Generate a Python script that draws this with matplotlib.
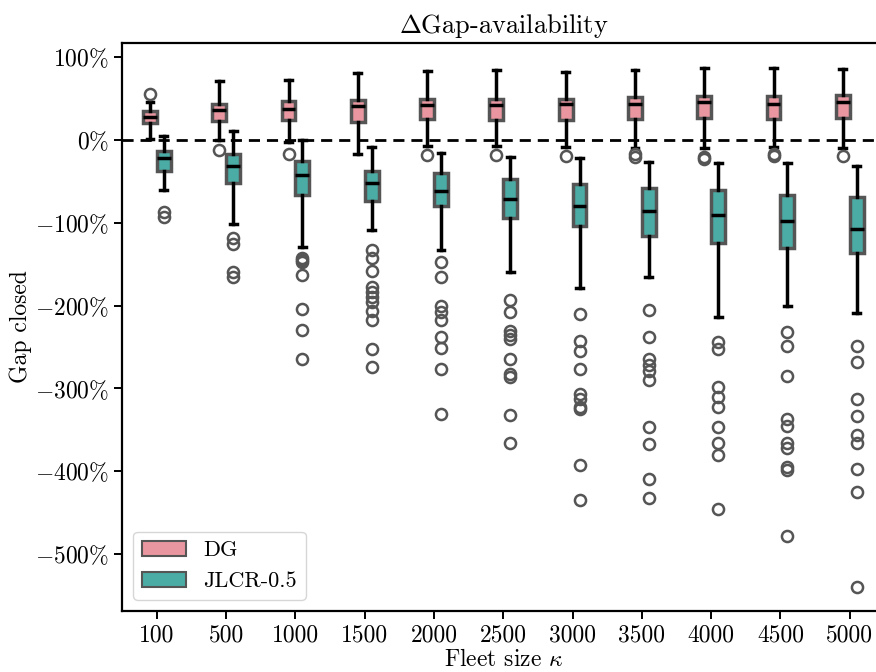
import matplotlib
matplotlib.use("Agg")
import matplotlib.pyplot as plt
import matplotlib.patches as mpatches
from matplotlib.ticker import FuncFormatter

plt.rcParams["font.family"] = "cmr10"
plt.rcParams["mathtext.fontset"] = "cm"
plt.rcParams["axes.formatter.use_mathtext"] = True

# Fleet sizes (categories)
FLEET = ["100", "500", "1000", "1500", "2000", "2500", "3000", "3500", "4000", "4500", "5000"]

# DG box stats (percent)
DG_WLO = [1, 0, -2, -17, -7, -7, -8, -10, -10, -9, -10]
DG_Q1 = [21, 23, 24, 22, 25, 24, 24, 25, 26, 25, 26]
DG_MED = [28, 36, 38, 41, 42, 42, 44, 43, 46, 44, 46]
DG_Q3 = [35, 44, 47, 48, 49, 50, 50, 52, 53, 53, 54]
DG_WHI = [46, 71, 72, 81, 83, 84, 82, 85, 87, 87, 86]
DG_FLIERS = [
    [56], [-12], [-17], [], [-18], [-18], [-19], [-17, -20], [-20, -23], [-17, -19], [-19],
]

# JLCR-0.5 box stats (percent)
JL_WLO = [-60, -102, -129, -109, -133, -159, -179, -166, -214, -200, -209]
JL_Q1 = [-38, -52, -66, -74, -80, -94, -104, -116, -124, -131, -137]
JL_MED = [-22, -32, -42, -52, -62, -71, -80, -86, -91, -98, -107]
JL_Q3 = [-13, -17, -25, -37, -40, -47, -53, -58, -61, -66, -69]
JL_WHI = [5, 11, 0, -8, -16, -20, -22, -26, -28, -28, -31]
JL_FLIERS = [
    [-87, -93],
    [-119, -126, -159, -166],
    [-142, -145, -148, -163, -204, -230, -264],
    [-133, -143, -158, -178, -184, -190, -196, -206, -218, -253, -274],
    [-148, -165, -200, -208, -217, -238, -251, -277, -331],
    [-193, -208, -231, -236, -241, -265, -283, -286, -332, -366],
    [-210, -243, -255, -277, -307, -313, -322, -325, -393, -435],
    [-205, -238, -265, -272, -279, -290, -347, -367, -410, -432],
    [-244, -253, -298, -311, -323, -347, -366, -381, -446],
    [-232, -249, -285, -337, -345, -366, -372, -395, -399, -479],
    [-249, -268, -313, -334, -356, -366, -398, -425, -540],
]

SERIES = ["DG", "JLCR-0.5"]
COLORS = ["#EA96A0", "#4BACA5"]
EDGE = "#555555"


def make_stats(wlo, q1, med, q3, whi, fliers):
    return [dict(whislo=a, q1=b, med=c, q3=d, whishi=e, fliers=f)
            for a, b, c, d, e, f in zip(wlo, q1, med, q3, whi, fliers)]


fig = plt.figure(figsize=(8.76, 6.72), dpi=100)
ax = fig.add_axes([0.1396, 0.0908, 0.870, 0.845])

groups = [
    make_stats(DG_WLO, DG_Q1, DG_MED, DG_Q3, DG_WHI, DG_FLIERS),
    make_stats(JL_WLO, JL_Q1, JL_MED, JL_Q3, JL_WHI, JL_FLIERS),
]
offsets = [-0.1, 0.1]

for stats, off, col in zip(groups, offsets, COLORS):
    ax.bxp(stats, positions=[i + off for i in range(len(FLEET))], widths=0.2,
           patch_artist=True, manage_ticks=False,
           boxprops=dict(facecolor=col, edgecolor=EDGE, linewidth=2.5),
           whiskerprops=dict(color="black", linewidth=2.5),
           capprops=dict(color="black", linewidth=2.5),
           medianprops=dict(color="black", linewidth=2.5),
           flierprops=dict(marker="o", markerfacecolor="none",
                           markeredgecolor=EDGE, markersize=8, markeredgewidth=1.8))

ax.axhline(0, color="black", linestyle=(0, (4, 2.5)), linewidth=2.0)

ax.set_xticks(range(len(FLEET)))
ax.set_xticklabels(FLEET)
ax.set_xlim(-0.5, len(FLEET) - 0.5)
ax.set_ylim(-569, 117)
ax.set_yticks([100, 0, -100, -200, -300, -400, -500])
ax.yaxis.set_major_formatter(FuncFormatter(lambda v, p: "$%d\\%%$" % v))

ax.tick_params(labelsize=17, length=6, width=1.4)
for s in ax.spines.values():
    s.set_linewidth(1.6)

ax.set_title(r"$\Delta$Gap-availability", fontsize=19, pad=7)
ax.set_xlabel(r"Fleet size $\kappa$", fontsize=17, labelpad=2)
ax.set_ylabel("Gap closed", fontsize=17, labelpad=2)

handles = [mpatches.Patch(facecolor=c, edgecolor=EDGE, linewidth=1.5, label=l)
           for c, l in zip(COLORS, SERIES)]
ax.legend(handles=handles, loc="lower left", fontsize=16, handlelength=1.95,
          handleheight=0.68, borderaxespad=0.5, framealpha=0.8)

fig.savefig("out.png", dpi=100)
